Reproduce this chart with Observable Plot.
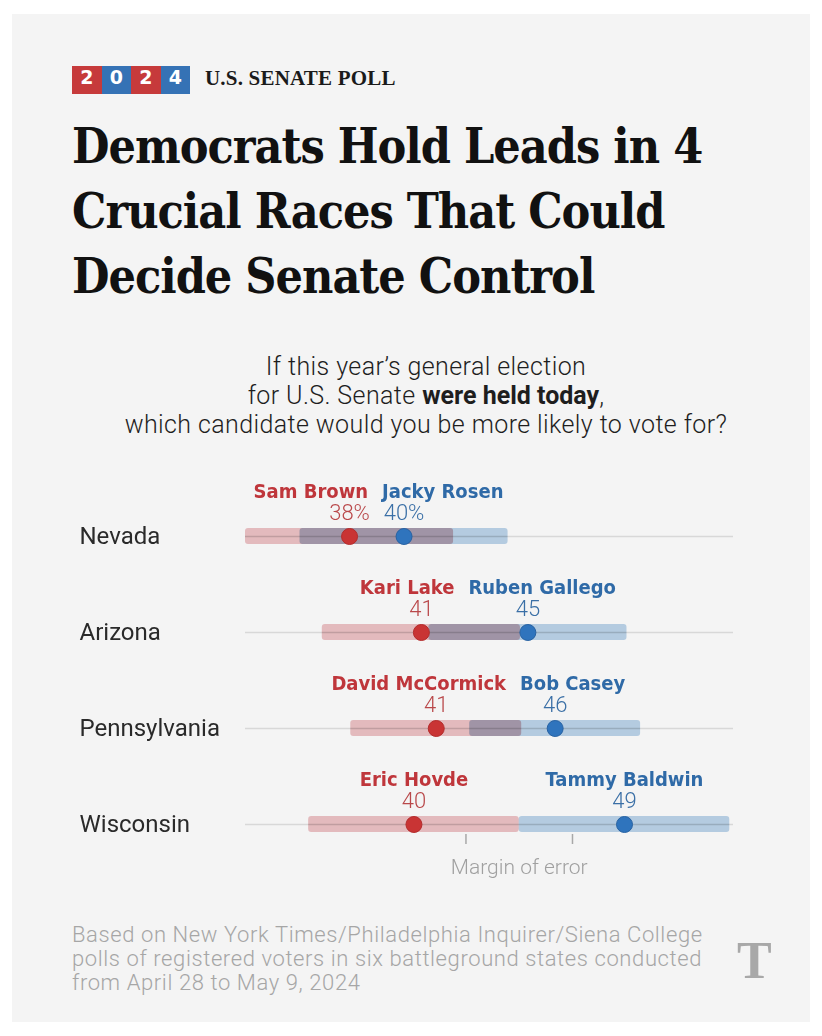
<!DOCTYPE html>
<html><head><meta charset="utf-8">
<script src="https://cdn.jsdelivr.net/npm/d3@7"></script>
<script src="https://cdn.jsdelivr.net/npm/@observablehq/plot@0.6"></script>
<style>
html,body{margin:0;padding:0;background:#fff;}
body{width:822px;height:1036px;position:relative;overflow:hidden;}
#panel{position:absolute;left:12px;top:14px;width:798px;height:1008px;background:#f4f4f4;}
.abs{position:absolute;}
#badge{left:72px;top:66px;height:28px;display:flex;}
#badge span{display:block;width:29.5px;height:28px;line-height:28px;text-align:center;color:#fff;font:bold 19px "DejaVu Sans",sans-serif;}
#kicker{left:205px;top:66px;line-height:28px;font:bold 21px "Liberation Serif",serif;color:#1a1a1a;letter-spacing:0.2px;}
#title{left:72px;top:114px;width:720px;font-family:"DejaVu Serif Condensed","DejaVu Serif",serif;font-weight:bold;font-size:48px;line-height:65px;color:#111;letter-spacing:-1px;}
#sub{left:76px;top:352px;width:700px;text-align:center;font-family:Roboto,sans-serif;font-weight:300;font-size:25px;line-height:29px;color:#1e1e1e;letter-spacing:0.4px;}
#sub b{font-weight:700;letter-spacing:0;}
#chart{left:0;top:460px;}
#foot{left:72px;top:923px;width:720px;font-family:Roboto,sans-serif;font-weight:300;font-size:22px;line-height:24px;color:#a6a6a6;letter-spacing:0.6px;}
#logo{left:737px;top:931px;font:bold 52px "Liberation Serif",serif;color:#a8a8a8;}
</style></head>
<body>
<div id="panel"></div>
<div id="badge" class="abs"></div>
<div id="kicker" class="abs">U.S. SENATE POLL</div>
<div id="title" class="abs">Democrats Hold Leads in 4<br>Crucial Races That Could<br>Decide Senate Control</div>
<div id="sub" class="abs">If this year’s general election<br>for U.S. Senate <b>were held today</b>,<br>which candidate would you be more likely to vote for?</div>
<div id="chart" class="abs"></div>
<div id="foot" class="abs">Based on New York Times/Philadelphia Inquirer/Siena College<br>polls of registered voters in six battleground states conducted<br>from April 28 to May 9, 2024</div>
<div id="logo" class="abs">T</div>
<script>
// ---- data ----
const badgeDigits = ["2","0","2","4"];
const states = ["Nevada","Arizona","Pennsylvania","Wisconsin"];
const repNames = ["Sam Brown","Kari Lake","David McCormick","Eric Hovde"];
const demNames = ["Jacky Rosen","Ruben Gallego","Bob Casey","Tammy Baldwin"];
const repValues = [37.8, 40.7, 41.3, 40.4];
const demValues = [40.0, 45.0, 46.1, 48.9];
const repLabels = ["38%","41","41","40"];
const demLabels = ["40%","45","46","49"];
const marginOfError = [4.2, 4.0, 3.45, 4.25];
const xDomain = [33.6, 53.3];
const moeLegendTicks = [42.5, 46.8];
const moeLegendText = "Margin of error";

// ---- header badge ----
const badgeColors = ["#c63a3b","#3572b5","#c63a3b","#3572b5"];
const badge = document.getElementById("badge");
badgeDigits.forEach((d,i)=>{const s=document.createElement("span");s.textContent=d;s.style.background=badgeColors[i];badge.appendChild(s);});

// ---- chart ----
const W = 822, H = 430, marginLeft = 245, marginRight = 89;
const pxPerUnit = (W - marginLeft - marginRight) / (xDomain[1] - xDomain[0]);
const nameFamily = '"DejaVu Sans Condensed", "DejaVu Sans", sans-serif';
const nameSize = 20;
const rows = states.map((s,i)=>({state:s, rep:repValues[i], dem:demValues[i], moe:marginOfError[i],
  repName:repNames[i], demName:demNames[i], repLabel:repLabels[i], demLabel:demLabels[i]}));
const ctx = document.createElement("canvas").getContext("2d");
ctx.font = `bold ${nameSize}px ${nameFamily}`;
rows.forEach(r=>{
  const rw = ctx.measureText(r.repName).width, dw = ctx.measureText(r.demName).width;
  let rc = r.rep*pxPerUnit, dc = r.dem*pxPerUnit;
  const overlap = (rc + rw/2) - (dc - dw/2) + 14;
  if (overlap > 0) { rc -= overlap/2; dc += overlap/2; }
  r.repNameX = rc/pxPerUnit; r.demNameX = dc/pxPerUnit;
});
const lastState = states[states.length-1];
const chart = Plot.plot({
  width: W, height: H, marginLeft, marginRight, marginTop: 26.67, marginBottom: 16.67,
  x: {domain: xDomain, axis: null},
  y: {domain: states, type: "band", padding: 0, axis: null},
  style: {background: "transparent", isolation: "isolate", overflow: "visible"},
  marks: [
    Plot.ruleY(states, {y: d=>d, stroke: "#d8d8d8", strokeWidth: 1.5}),
    Plot.barX(rows, {y: "state", x1: d=>d.rep-d.moe, x2: d=>d.rep+d.moe, fill: "#e3babd", insetTop: 40, insetBottom: 40, rx: 3, mixBlendMode: "multiply"}),
    Plot.barX(rows, {y: "state", x1: d=>d.dem-d.moe, x2: d=>d.dem+d.moe, fill: "#b4cbe0", insetTop: 40, insetBottom: 40, rx: 3, mixBlendMode: "multiply"}),
    Plot.dot(rows, {x: "rep", y: "state", r: 8, fill: "#c93434", stroke: "#b32c2c", strokeWidth: 1}),
    Plot.dot(rows, {x: "dem", y: "state", r: 8, fill: "#2f74bd", stroke: "#2862a2", strokeWidth: 1}),
    Plot.text(rows, {x: "repNameX", y: "state", text: "repName", dy: -45, fill: "#bf363b", fontFamily: nameFamily, fontWeight: "bold", fontSize: nameSize}),
    Plot.text(rows, {x: "demNameX", y: "state", text: "demName", dy: -45, fill: "#2f6aa7", fontFamily: nameFamily, fontWeight: "bold", fontSize: nameSize}),
    Plot.text(rows, {x: "rep", y: "state", text: "repLabel", dy: -24, fill: "#b9484a", fontFamily: "Roboto", fontWeight: 300, fontSize: 22}),
    Plot.text(rows, {x: "dem", y: "state", text: "demLabel", dy: -24, fill: "#3a6fa6", fontFamily: "Roboto", fontWeight: 300, fontSize: 22}),
    Plot.text(states, {y: d=>d, frameAnchor: "left", textAnchor: "start", dx: -166, fill: "#2a2a2a", fontFamily: "Roboto", fontWeight: 400, fontSize: 24}),
    Plot.ruleX(moeLegendTicks, {x: d=>d, y1: ()=>lastState, y2: ()=>lastState, insetTop: 58, insetBottom: 28, stroke: "#a8a8a8", strokeWidth: 1.5}),
    Plot.text([moeLegendText], {x: ()=>d3.mean(moeLegendTicks), y: ()=>lastState, text: d=>d, dy: 43, fill: "#a0a0a0", fontFamily: "Roboto", fontWeight: 300, fontSize: 21})
  ]
});
document.getElementById("chart").appendChild(chart);
</script>
</body></html>
